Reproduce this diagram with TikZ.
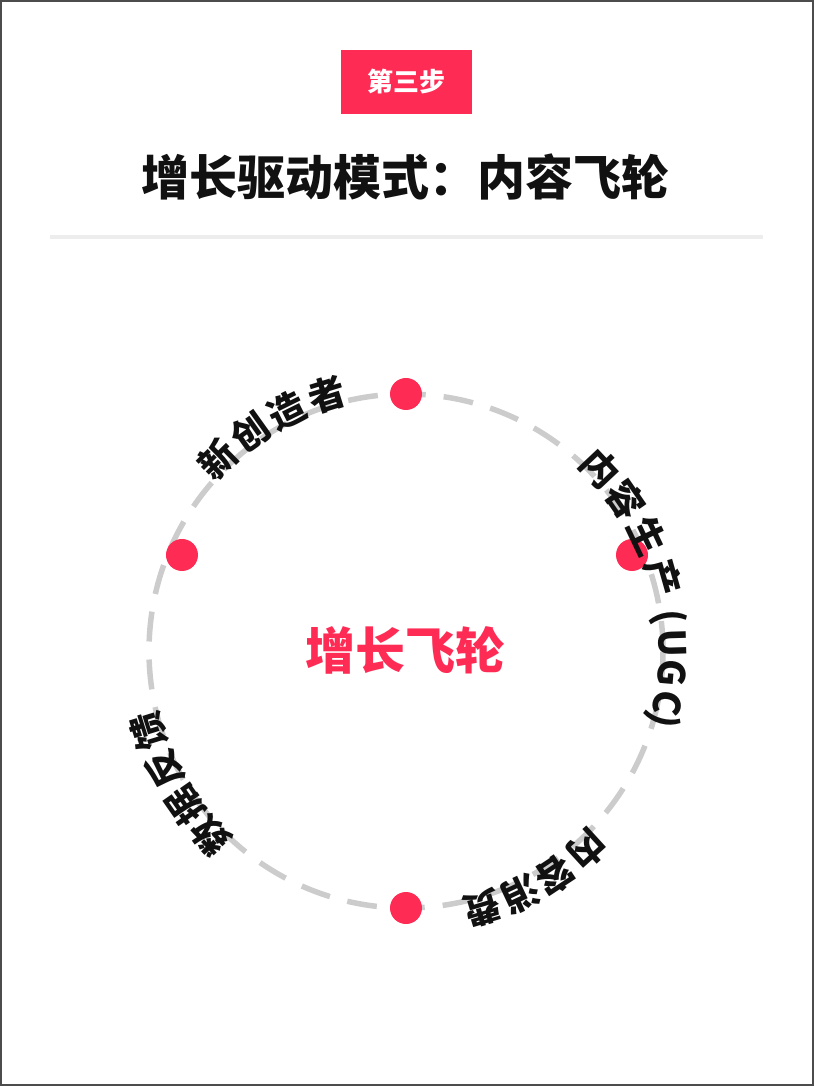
\documentclass[tikz,border=0pt]{standalone}
\usepackage{fontspec}
\newfontfamily\cjk{Noto Sans CJK SC}
\definecolor{brand}{HTML}{FE2C55}
\definecolor{ink}{HTML}{111111}

\begin{document}
\begin{tikzpicture}[x=1pt,y=1pt,
		badge/.style={fill=brand,text=white,minimum width=131pt,minimum height=64pt,inner sep=0pt,font=\cjk\bfseries\fontsize{26}{26}\selectfont},
		heading/.style={text=ink,inner sep=0pt,font=\cjk\bfseries\fontsize{48}{48}\selectfont},
		hub text/.style={text=brand,inner sep=0pt,font=\cjk\bfseries\fontsize{50}{50}\selectfont},
		ring/.style={draw=gray!40,line width=5.5pt,dash pattern=on 30pt off 18pt},
		dot/.style={circle,fill=brand,minimum size=32pt,inner sep=0pt},
		glyph/.style={text=ink,inner sep=0pt,anchor=base,font=\cjk\bfseries\fontsize{37}{37}\selectfont}
		]
		\useasboundingbox (-406,-435) rectangle (408,651);
		\draw[line width=2pt,draw=black!70] (-405,-434) rectangle (407,650);

		\node[badge] (step) at (0.5,569) {第三步};
		\node[heading] (title) at (0,474) {增长驱动模式：内容飞轮};
		\draw[line width=4pt,draw=black!7] (-356,414) -- (357,414);

		\draw[ring] (0,0) circle[radius=257];
		\node[hub text] (hub) at (0,1) {增长飞轮};

		\node[dot] (top dot) at (90:257) {};
		\node[dot] (bottom dot) at (-90:257) {};
		\node[dot] (left dot) at (-224,96) {};
		\node[dot] (right dot) at (226,96) {};

		\foreach \ch/\ang [count=\i] in {新/134.5,创/125.5,造/116.4,者/107.2}
			\node[glyph,rotate=\ang-90] (creator \i) at (\ang:254) {\ch};
		\foreach \ch/\ang [count=\i] in {内/43.3,容/34.6,生/25.4,产/15.9,{(}/7.4,U/1.7,G/-4.8,C/-11.2,{)}/-15}
			\node[glyph,rotate=\ang-90] (produce \i) at (\ang:253) {\ch};
		\foreach \ch/\ang [count=\i] in {内/-47.6,容/-56.5,消/-64.8,费/-73.3}
			\node[glyph,rotate=\ang-90] (consume \i) at (\ang:255) {\ch};
		\foreach \ch/\ang [count=\i] in {数/223.5,据/214.9,反/206.1,馈/197.2}
			\node[glyph,rotate=\ang-90] (feedback \i) at (\ang:255) {\ch};
%		\node[glyph] (note) at (0,-300) {};
	\end{tikzpicture}
\end{document}
